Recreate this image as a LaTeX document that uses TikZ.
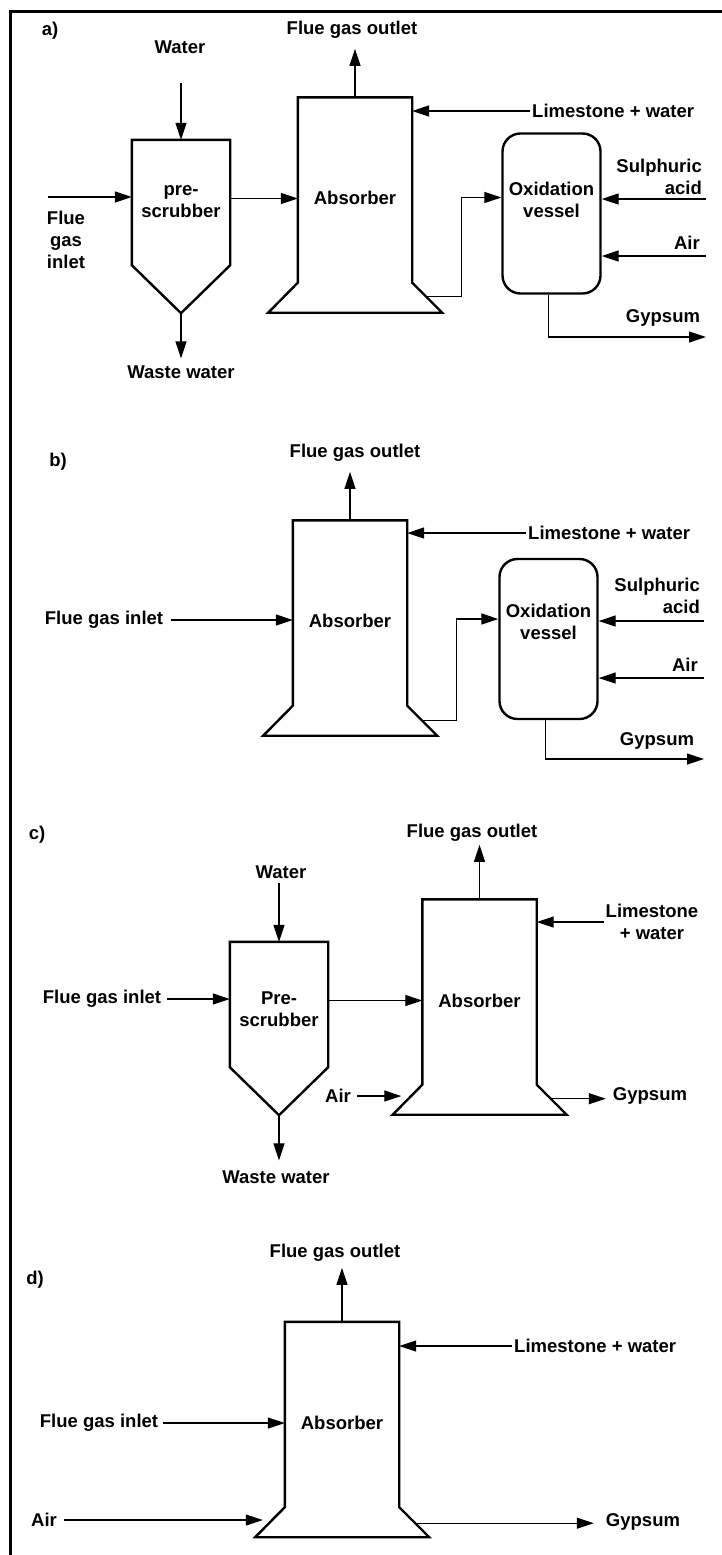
\documentclass[tikz,border=0pt]{standalone}
\usepackage{fontspec}
\setmainfont{Liberation Sans}
\usetikzlibrary{arrows.meta,positioning,calc}

\tikzset{
  unit/.style={line width=2.4pt, line join=miter},
  flow/.style={line width=1.2pt, -{Triangle[length=17pt,width=11pt]}},
  lbl/.style={inner sep=2pt, align=center},
  absbody/.style={minimum width=114pt, minimum height=185pt, inner sep=0pt},
  prebody/.style={minimum width=98pt, minimum height=125pt, inner sep=0pt},
  vessel/.style={draw, line width=2.4pt, rounded corners=18pt, minimum width=98pt, minimum height=160pt, inner sep=0pt}
}

\begin{document}
\begin{tikzpicture}[x=1pt, y=-1pt, font=\fontsize{18.5}{22}\selectfont\bfseries]
  \useasboundingbox (0,0) rectangle (722,1555);

  % Frame
  \draw[line width=3pt] (10,1555) -- (10,12) -- (722,12);

  % ---- a) pre-scrubber, absorber, oxidation vessel ----
  \node[lbl] (tagA) at (50,31) {a)};
  \node[absbody, label={[lbl,yshift=-8pt]center:Absorber}] (absA) at (355,190) {};
  \draw[unit] (absA.south west) -- (absA.north west) -- (absA.north east) -- (absA.south east) -- ++(30,30) -- ++(-174,0) -- cycle;
  \node[prebody, label={[lbl,yshift=1pt]center:pre-\\scrubber}] (preA) at (181,202.5) {};
  \coordinate (preAtip) at ([yshift=-48pt]preA.south);
  \draw[unit] (preA.south west) -- (preA.north west) -- (preA.north east) -- (preA.south east) -- (preAtip) -- cycle;
  \node[vessel, label={[lbl,yshift=14pt]center:Oxidation\\vessel}] (vesA) at (551.5,213.5) {};

  \node[lbl] (outA) at (352,30) {Flue gas outlet};
  \draw[flow, shorten >=8pt] (absA.north) -- (absA.north |- outA.south);
  \node[lbl, anchor=west] (limA) at (530,111) {Limestone + water};
  \draw[flow] (limA.west) -- (limA.west -| absA.east);
  \node[lbl] (watA) at (180,47) {Water};
  \draw[flow, shorten <=27pt] (preA.north |- watA.south) -- (preA.north);
  \node[lbl] (wasA) at (181,372) {Waste water};
  \draw[flow, shorten >=5pt] (preAtip) -- (preAtip |- wasA.north);
  \node[lbl] (inA) at (66,240) {Flue\\gas\\inlet};
  \coordinate (inAstart) at (48,197);
  \draw[flow] (inAstart) -- (inAstart -| preA.west);
  \draw[flow] ([yshift=4pt]preA.east) -- ([yshift=4pt]preA.east -| absA.west);
  \coordinate (absAport) at ([shift={(14,14)}]absA.south east);
  \draw[flow] (absAport) -- ++(35,0) |- ([yshift=16pt]vesA.west);
  \node[lbl, anchor=east] (sulA) at (704,176.5) {Sulphuric\\\hfill acid};
  \coordinate (sulAin) at (706,199);
  \draw[flow] (sulAin) -- (sulAin -| vesA.east);
  \node[lbl, anchor=east] (airA) at (702,243) {Air};
  \coordinate (airAin) at (706,256);
  \draw[flow] (airAin) -- (airAin -| vesA.east);
  \node[lbl] (gypA) at (663,318) {Gypsum};
  \coordinate (gypAend) at (706,337);
  \draw[flow] ([xshift=-3pt]vesA.south) |- (gypAend);

  % ---- b) absorber, oxidation vessel ----
  \node[lbl] (tagB) at (58,462) {b)};
  \node[absbody, label={[lbl,yshift=-8pt]center:Absorber}] (absB) at (350,613) {};
  \draw[unit] (absB.south west) -- (absB.north west) -- (absB.north east) -- (absB.south east) -- ++(30,30) -- ++(-174,0) -- cycle;
  \node[vessel, label={[lbl,yshift=17pt]center:Oxidation\\vessel}] (vesB) at (548.5,639) {};

  \node[lbl] (outB) at (355,453) {Flue gas outlet};
  \draw[flow, shorten >=8pt] (absB.north) -- (absB.north |- outB.south);
  \node[lbl, anchor=west] (limB) at (526,533) {Limestone + water};
  \draw[flow] (limB.west) -- (limB.west -| absB.east);
  \node[lbl] (inB) at (104,620) {Flue gas inlet};
  \draw[flow, shorten <=6pt] (inB) -- (inB -| absB.west);
  \coordinate (absBport) at ([shift={(15,15)}]absB.south east);
  \draw[flow] (absBport) -- ++(34,0) |- ([yshift=20pt]vesB.west);
  \node[lbl, anchor=east] (sulB) at (702,596) {Sulphuric\\\hfill acid};
  \coordinate (sulBin) at (704,621);
  \draw[flow] (sulBin) -- (sulBin -| vesB.east);
  \node[lbl, anchor=east] (airB) at (700,665) {Air};
  \coordinate (airBin) at (704,678);
  \draw[flow] (airBin) -- (airBin -| vesB.east);
  \node[lbl] (gypB) at (657,741) {Gypsum};
  \coordinate (gypBend) at (704,759);
  \draw[flow] ([xshift=-3pt]vesB.south) |- (gypBend);

  % ---- c) pre-scrubber, absorber with air ----
  \node[lbl] (tagC) at (37,835) {c)};
  \node[absbody, label={[lbl,yshift=-9pt]center:Absorber}] (absC) at (479.5,992) {};
  \draw[unit] (absC.south west) -- (absC.north west) -- (absC.north east) -- (absC.south east) -- ++(30,30) -- ++(-174,0) -- cycle;
  \node[prebody, label={[lbl,yshift=-5pt]center:Pre-\\scrubber}] (preC) at (279,1004.5) {};
  \coordinate (preCtip) at ([yshift=-48pt]preC.south);
  \draw[unit] (preC.south west) -- (preC.north west) -- (preC.north east) -- (preC.south east) -- (preCtip) -- cycle;

  \node[lbl] (outC) at (472,833) {Flue gas outlet};
  \draw[flow, shorten >=1pt] (absC.north) -- (absC.north |- outC.south);
  \node[lbl] (limC) at (652,922) {Limestone\\+ water};
  \draw[flow] (limC.west) -- (limC.west -| absC.east);
  \node[lbl] (watC) at (281,872) {Water};
  \draw[flow, shorten <=2pt] (preC.north |- watC.south) -- (preC.north);
  \node[lbl] (wasC) at (276,1177) {Waste water};
  \draw[flow, shorten >=8pt] (preCtip) -- (preCtip |- wasC.north);
  \node[lbl] (inC) at (102,999) {Flue gas inlet};
  \draw[flow, shorten <=4pt] (inC) -- (inC -| preC.west);
  \draw[flow] ([yshift=4pt]preC.east) -- ([yshift=4pt]preC.east -| absC.west);
  \node[lbl] (airC) at (338,1096) {Air};
  \coordinate (absCair) at ([shift={(-11,11)}]absC.south west);
  \draw[flow, shorten <=4pt, shorten >=10pt] (airC) -- (airC -| absCair);
  \node[lbl] (gypC) at (650,1096) {Gypsum};
  \coordinate (absCgyp) at ([shift={(14,14)}]absC.south east);
  \draw[flow, shorten >=5pt] (absCgyp) -- (absCgyp -| gypC.west);

  % ---- d) absorber only ----
  \node[lbl] (tagD) at (35,1280) {d)};
  \node[absbody, label={[lbl,yshift=-8pt]center:Absorber}] (absD) at (342,1414.5) {};
  \draw[unit] (absD.south west) -- (absD.north west) -- (absD.north east) -- (absD.south east) -- ++(30,30) -- ++(-174,0) -- cycle;

  \node[lbl] (outD) at (335,1253) {Flue gas outlet};
  \draw[flow, shorten >=4pt] (absD.north) -- (absD.north |- outD.south);
  \node[lbl, anchor=west] (limD) at (512,1346) {Limestone + water};
  \draw[flow] (limD.west) -- (limD.west -| absD.east);
  \node[lbl] (inD) at (99,1423) {Flue gas inlet};
  \draw[flow, shorten <=3pt] (inD) -- (inD -| absD.west);
  \node[lbl] (airD) at (44,1520) {Air};
  \coordinate (absDair) at ([shift={(-13,13)}]absD.south west);
  \draw[flow, shorten <=5pt, shorten >=9pt] (airD) -- (airD -| absDair);
  \node[lbl] (gypD) at (643,1522) {Gypsum};
  \coordinate (absDgyp) at ([shift={(16,16)}]absD.south east);
  \draw[flow, shorten >=10pt] (absDgyp) -- (absDgyp -| gypD.west);
\end{tikzpicture}
\end{document}
